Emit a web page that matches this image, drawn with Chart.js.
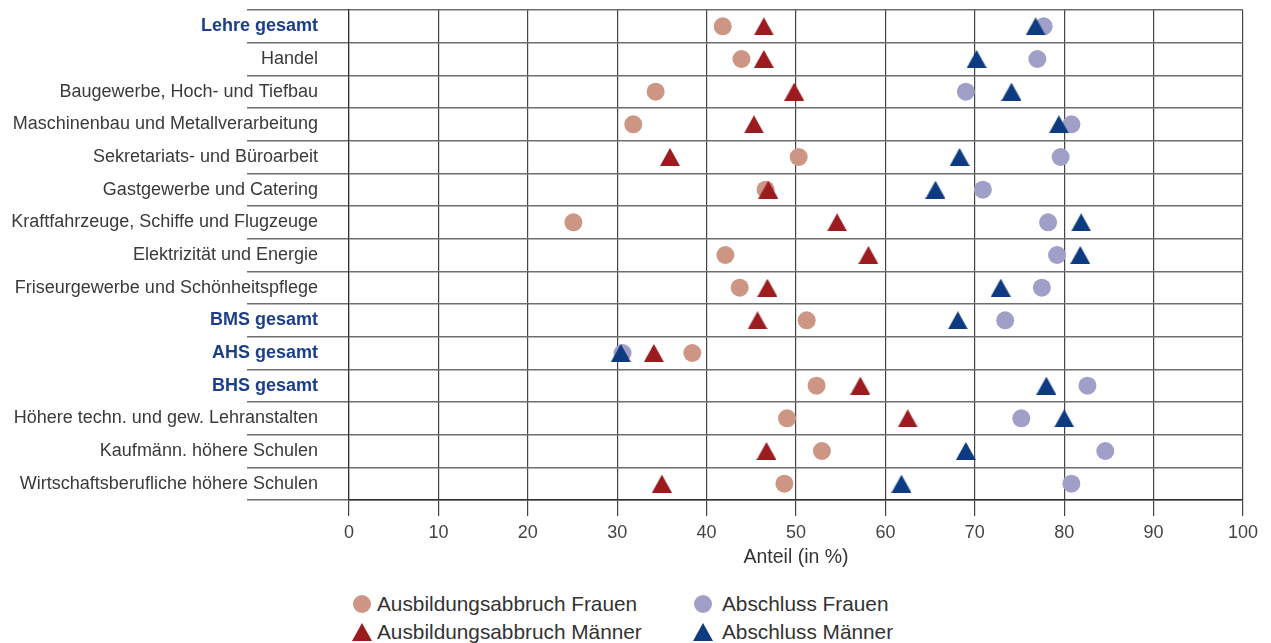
<!DOCTYPE html>
<html>
<head>
<meta charset="utf-8">
<script src="https://cdn.jsdelivr.net/npm/chart.js@4.4.1/dist/chart.umd.min.js"></script>
<style>
  body { margin: 0; background: #fff; font-family: 'Liberation Sans', Arial, sans-serif; }
  #wrap { position: relative; width: 1271px; height: 643px; overflow: hidden; }
  #chart { position: absolute; left: 0; top: 0; }
  .item { position: absolute; font-size: 20.8px; line-height: 24px; color: #333; white-space: nowrap; }
  .dot { position: absolute; width: 18px; height: 18px; border-radius: 50%; }
  .tri { position: absolute; width: 0; height: 0; border-left: 10px solid transparent; border-right: 10px solid transparent; }
</style>
</head>
<body>
<div id="wrap">
  <canvas id="chart" width="1271" height="580"></canvas>
  <div class="dot" style="left:353px;top:595px;background:#cc9584"></div>
  <div class="item" style="left:377px;top:592px">Ausbildungsabbruch Frauen</div>
  <div class="dot" style="left:694px;top:595px;background:#a09fc8"></div>
  <div class="item" style="left:722px;top:592px">Abschluss Frauen</div>
  <div class="tri" style="left:352px;top:623px;border-bottom:18px solid #9b1b1f"></div>
  <div class="item" style="left:377px;top:620px">Ausbildungsabbruch Männer</div>
  <div class="tri" style="left:693px;top:623px;border-bottom:18px solid #0d3a80"></div>
  <div class="item" style="left:722px;top:620px">Abschluss Männer</div>
</div>
<script>
const categories = [
  'Lehre gesamt',
  'Handel',
  'Baugewerbe, Hoch- und Tiefbau',
  'Maschinenbau und Metallverarbeitung',
  'Sekretariats- und Büroarbeit',
  'Gastgewerbe und Catering',
  'Kraftfahrzeuge, Schiffe und Flugzeuge',
  'Elektrizität und Energie',
  'Friseurgewerbe und Schönheitspflege',
  'BMS gesamt',
  'AHS gesamt',
  'BHS gesamt',
  'Höhere techn. und gew. Lehranstalten',
  'Kaufmänn. höhere Schulen',
  'Wirtschaftsberufliche höhere Schulen'
]
const totals = ['Lehre gesamt', 'BMS gesamt', 'AHS gesamt', 'BHS gesamt']

const abbruchFrauen = [41.8, 43.9, 34.3, 31.8, 50.3, 46.6, 25.1, 42.1, 43.7, 51.2, 38.4, 52.3, 49.0, 52.9, 48.7]
const abbruchMaenner = [46.4, 46.4, 49.8, 45.3, 35.9, 46.9, 54.6, 58.1, 46.8, 45.7, 34.1, 57.2, 62.5, 46.7, 35.0]
const abschlussFrauen = [77.7, 77.0, 69.0, 80.8, 79.6, 70.9, 78.2, 79.2, 77.5, 73.4, 30.6, 82.6, 75.2, 84.6, 80.8]
const abschlussMaenner = [76.8, 70.2, 74.1, 79.4, 68.3, 65.6, 81.9, 81.8, 72.9, 68.1, 30.4, 78.0, 80.0, 69.0, 61.8]

const xTicks = [0, 10, 20, 30, 40, 50, 60, 70, 80, 90, 100]

// triangle marker, centred on its box
function triangle(color) {
  const c = document.createElement('canvas')
  c.width = 20
  c.height = 18
  const ctx = c.getContext('2d')
  ctx.fillStyle = color
  ctx.beginPath()
  ctx.moveTo(10, 0)
  ctx.lineTo(20, 18)
  ctx.lineTo(0, 18)
  ctx.closePath()
  ctx.fill()
  return c
}

const font = "'Liberation Sans', Arial, sans-serif"

const dotSet = (label, data, color) => ({
  label, data,
  showLine: false,
  pointStyle: 'circle',
  pointRadius: 9,
  pointBorderWidth: 0,
  backgroundColor: color,
  borderColor: color,
  order: 2
})
const triSet = (label, data, color) => ({
  label, data,
  showLine: false,
  pointStyle: triangle(color),
  pointRadius: 10,
  pointBorderWidth: 0,
  backgroundColor: color,
  borderColor: color,
  order: 1
})

new Chart(document.getElementById('chart'), {
  type: 'line',
  data: {
    labels: categories,
    datasets: [
      dotSet('Ausbildungsabbruch Frauen', abbruchFrauen, '#cc9584'),
      dotSet('Abschluss Frauen', abschlussFrauen, '#a09fc8'),
      triSet('Ausbildungsabbruch Männer', abbruchMaenner, '#9b1b1f'),
      triSet('Abschluss Männer', abschlussMaenner, '#0d3a80')
    ]
  },
  options: {
    indexAxis: 'y',
    responsive: false,
    animation: false,
    layout: { padding: { top: 10, right: 28, left: 0, bottom: 0 } },
    plugins: { legend: { display: false }, tooltip: { enabled: false } },
    scales: {
      x: {
        type: 'linear',
        min: 0,
        max: 100,
        afterBuildTicks: s => { s.ticks = xTicks.map(v => ({ value: v })) },
        afterFit: s => { s.height = 80 },
        grid: { color: '#444', lineWidth: 1.2, tickLength: 16, tickColor: '#444' },
        border: { color: '#333', width: 1.5 },
        ticks: { color: '#444', padding: 6, font: { family: font, size: 18 } },
        title: {
          display: true,
          text: 'Anteil (in %)',
          color: '#333',
          font: { family: font, size: 19.5 },
          padding: { top: 0, bottom: 11 }
        }
      },
      y: {
        type: 'category',
        offset: true,
        afterFit: s => { s.width = 349 },
        grid: { offset: true, color: '#6e6e6e', lineWidth: 1.5, tickLength: 102, tickColor: '#6e6e6e' },
        border: { color: '#333', width: 1.2 },
        ticks: {
          padding: -71,
          color: ctx => totals.includes(categories[ctx.index]) ? '#1b3f8b' : '#3a3a3a',
          font: ctx => ({
            family: font,
            size: 18,
            weight: totals.includes(categories[ctx.index]) ? 'bold' : 'normal'
          })
        }
      }
    }
  }
})
</script>
</body>
</html>
